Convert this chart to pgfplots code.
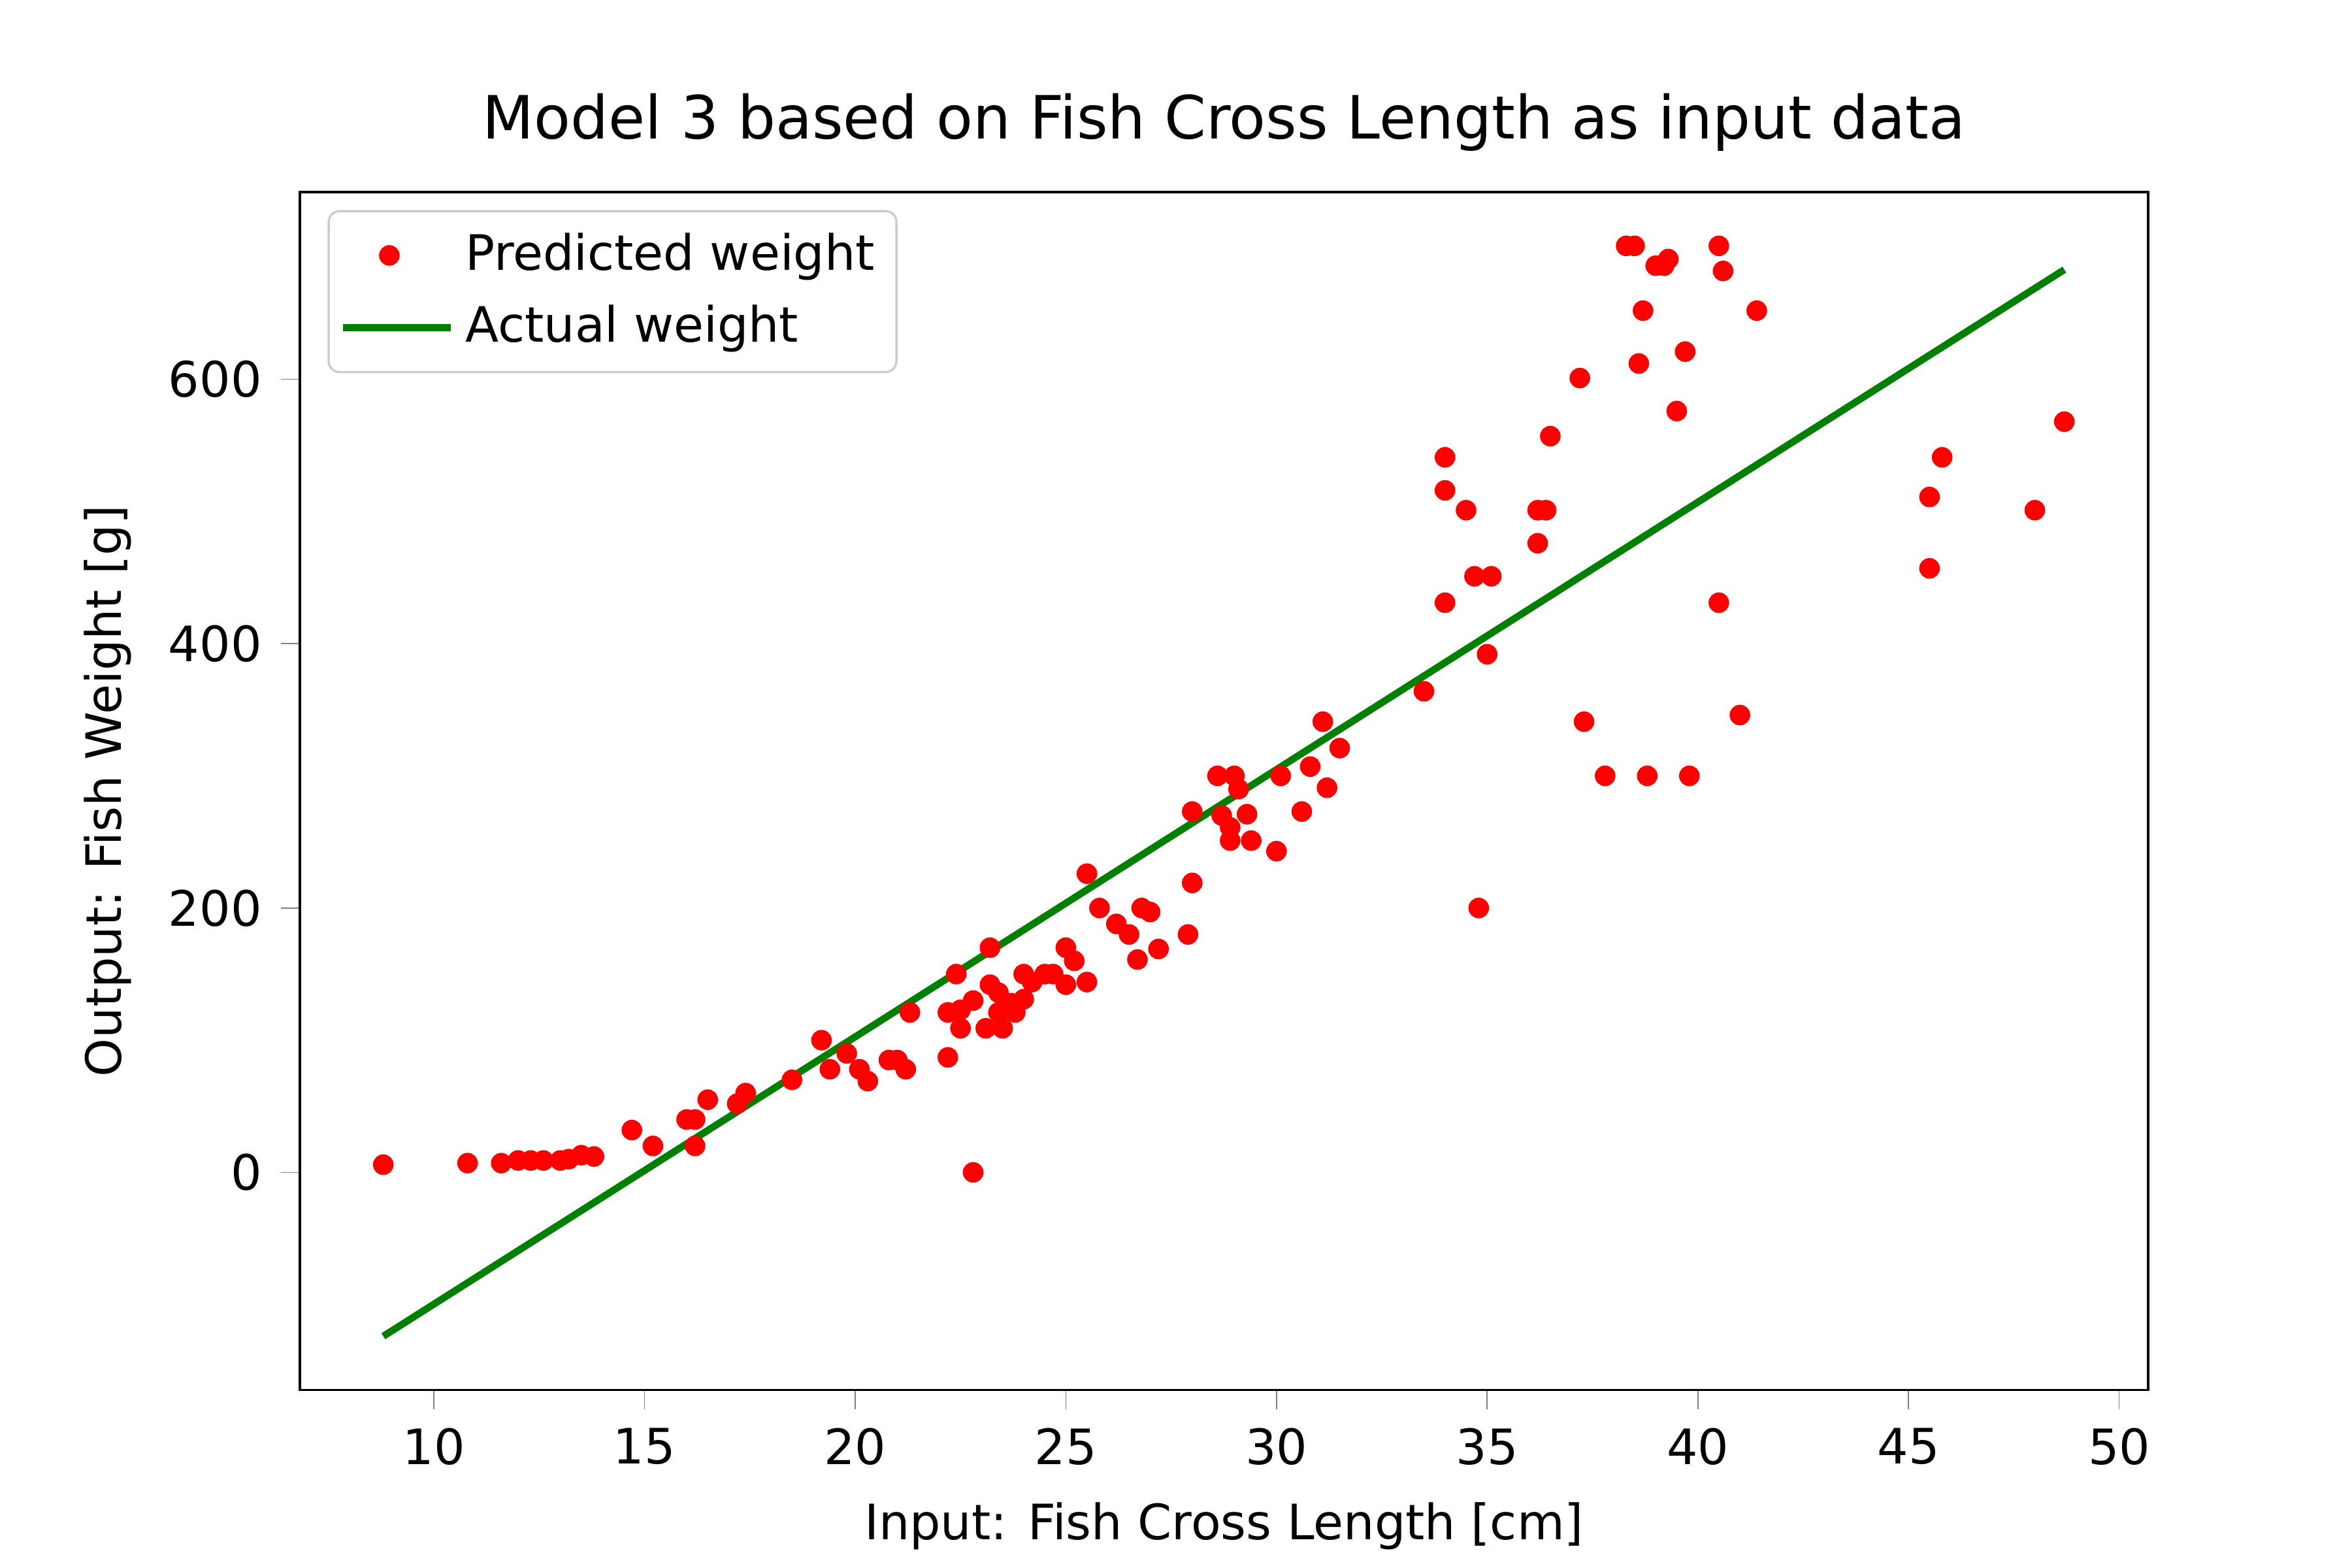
\documentclass[border=0pt]{standalone}
\usepackage{fontspec}
\setmainfont{DejaVu Sans}
\usepackage{pgfplots}
\pgfplotsset{compat=1.18}
\definecolor{mgreen}{rgb}{0,0.5,0}
\begin{document}
\begin{tikzpicture}
\begin{axis}[name=ax, scale only axis, width=4.715in, height=3.056in,
 xmin=6.82, xmax=50.69, ymin=-164.7, ymax=741.7,
 xtick={10,15,...,50}, ytick={0,200,400,600},
 tick align=outside, tick pos=left, major tick length=3.5pt,
 /pgf/number format/assume math mode=true,
 tick label style={font=\fontsize{9}{11}\selectfont},
 label style={font=\fontsize{9}{11}\selectfont},
 title style={font=\fontsize{11}{13}\selectfont, yshift=-2pt},
 title={Model 3 based on Fish Cross Length as input data},
 xlabel={Input: Fish Cross Length [cm]}, ylabel={Output: Fish Weight [g]},
 legend style={at={(0.015,0.985)}, anchor=north west, font=\fontsize{9}{11}\selectfont, draw=black!20, rounded corners=2pt, inner sep=2pt, row sep=1pt},
 legend cell align=left,
 legend image code/.code={},
]
\addplot[only marks, mark=*, mark size=1.7pt, red, mark options={draw=red, fill=red}, legend image code/.code={\draw[red,fill=red] (0.3cm,0) circle (1.7pt);}] coordinates {
(8.8,5.8)(10.8,7)(11.6,7)(12.0,9)(12.3,9)(12.6,9)(13.0,9)(13.2,10)(13.5,13)(13.8,12)
(14.7,32)(15.2,20)(16.0,40)(16.2,40)(16.2,20)(16.5,55)(17.2,52)(17.4,60)(18.5,70)(19.2,100)
(19.4,78)(19.8,90)(20.1,78)(20.3,69)(20.8,85)(21.0,85)(21.2,78)(21.3,121)(22.2,87)(22.2,121)
(22.4,150)(22.5,123)(22.5,109)(22.8,130)(22.8,0)(23.1,109)(23.2,142)(23.2,170)(23.4,136)(23.4,121)
(23.5,109)(23.7,128)(23.8,121)(24.0,150)(24.0,131)(24.2,144)(24.5,150)(24.7,150)(25.0,170)(25.0,142)
(25.2,160)(25.5,144)(25.5,226)(25.8,200)(26.2,188)(26.5,180)(26.7,161)(26.8,200)(27.0,197)(27.2,169)
(27.9,180)(28.0,219)(28.0,273)(28.6,300)(28.7,270)(28.9,251)(28.9,261)(29.0,300)(29.1,290)(29.3,271)
(29.4,251)(30.0,243)(30.1,300)(30.6,273)(30.8,307)(31.1,341)(31.2,291)(31.5,321)(33.5,364)(34.0,431)
(34.0,516)(34.0,541)(34.5,501)(34.7,451)(34.8,200)(35.0,392)(35.1,451)(36.2,476)(36.2,501)(36.4,501)
(36.5,557)(37.2,601)(37.3,341)(37.8,300)(38.3,701)(38.5,701)(38.6,612)(38.7,652)(38.8,300)(39.0,686)
(39.2,686)(39.3,691)(39.5,576)(39.7,621)(39.8,300)(40.5,701)(40.5,431)(40.6,682)(41.0,346)(41.4,652)
(45.5,511)(45.5,457)(45.8,541)(48.0,501)(48.7,568)
};
\addlegendentry{Predicted weight}
\addplot[mgreen, line width=1.3pt, legend image code/.code={\draw[mgreen, line width=1.3pt] (0,0) -- (0.7cm,0);}] coordinates {(8.8,-124)(48.7,683)};
\addlegendentry{Actual weight}
\end{axis}
\pgfresetboundingbox
\path (ax.south west) ++(-0.765in,-0.454in) rectangle ++(6in,4in);
\end{tikzpicture}
\end{document}
